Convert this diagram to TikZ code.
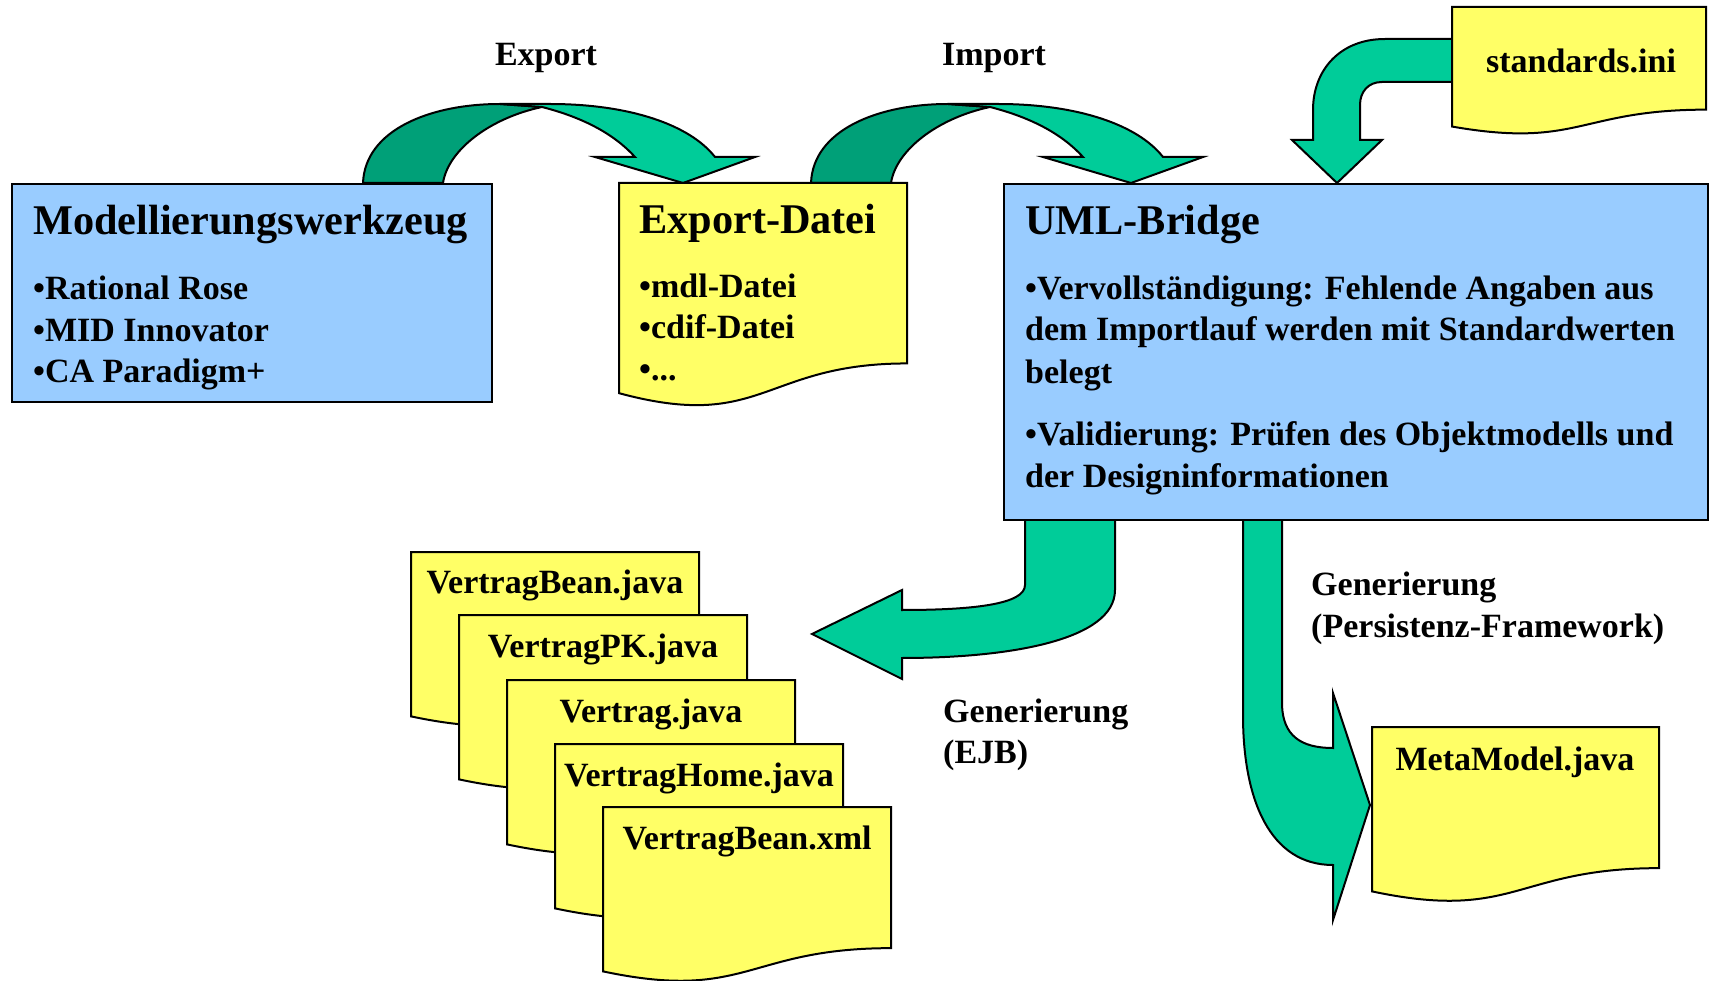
\documentclass[tikz,border=0pt]{standalone}
\usepackage{fontspec}
\setmainfont{Liberation Serif}
\definecolor{flowgreen}{HTML}{00CC99}
\definecolor{flowdark}{HTML}{00A078}
\definecolor{boxblue}{HTML}{99CCFF}
\definecolor{paperyellow}{HTML}{FFFF66}
\newcommand\figbody{\fontsize{34}{41}\selectfont\bfseries}
\newcommand\figtitle{\fontsize{42.3}{50}\selectfont\bfseries}
\tikzset{
  outl/.style={draw=black, line width=2pt, line join=miter},
  bluebox/.style={outl, fill=boxblue, rectangle, anchor=north west, inner sep=0pt},
  paper/.style={outl, fill=paperyellow},
  greenband/.style={outl, fill=flowgreen},
  darkband/.style={outl, fill=flowdark},
  bodytext/.style={anchor=base west, inner sep=0pt, font=\figbody},
  titletext/.style={anchor=base west, inner sep=0pt, font=\figtitle},
  centertext/.style={anchor=base, inner sep=0pt, font=\figbody},
  % document sheet with a wavy lower edge; #1 = width, #2 = height
  pics/docsheet/.style n args={2}{code={
    \path[paper] (0,0) -- (#1,0) -- (#1,{0.802*#2})
      .. controls ({0.5*#1},{0.802*#2}) and ({0.5*#1},{1.1075*#2}) .. (0,{0.934*#2}) -- cycle;
  }},
  % arching arrow: darker rising band, lighter falling band with head
  pics/arcarrow/.style={code={
    \path[darkband] (363,183) .. controls (365,130) and (430,104) .. (500,104)
      -- (542,107) .. controls (490,118) and (448,150) .. (443,183) -- cycle;
    \path[greenband] (500,104) -- (550,104) .. controls (630,104) and (690,125) .. (715,157)
      -- (755,157) -- (683,183) -- (595,157) -- (635,157)
      .. controls (615,135) and (585,118) .. (542,107) -- cycle;
  }}
}
\begin{document}
\begin{tikzpicture}[x=1pt,y=-1pt]
\useasboundingbox (0,0) rectangle (1709,981);

% ---- block arrows (drawn first, boxes sit on top of their bases)
\pic (exparrow) at (0,0) {arcarrow};
\pic (imparrow) at (448,0) {arcarrow};

\path[greenband] (1460,39) -- (1385,39) .. controls (1340,39) and (1313,70) .. (1313,110)
  -- (1313,140) -- (1292,140) -- (1337,183) -- (1382,140) -- (1360,140) -- (1360,105)
  .. controls (1360,92) and (1368,82) .. (1382,82) -- (1460,82) -- cycle;

\path[greenband] (1025,519) -- (1025,585) .. controls (1025,604) and (975,610) .. (902,610)
  -- (902,590) -- (812,634) -- (902,679) -- (902,658)
  .. controls (1010,658) and (1115,640) .. (1115,590) -- (1115,519);

\path[greenband] (1243,519) -- (1243,715) .. controls (1243,800) and (1270,865) .. (1333,865)
  -- (1333,920) -- (1370,805) -- (1333,693) -- (1333,748)
  .. controls (1300,748) and (1283,735) .. (1282,705) -- (1282,519);

% ---- modelling tool
\node[bluebox, minimum width=480pt, minimum height=218pt] (modell) at (11,183) {};
\node[titletext] (modell-t) at (33,235) {Modellierungswerkzeug};
\node[bodytext] (modell-1) at (33,300) {•Rational Rose};
\node[bodytext] (modell-2) at (33,342) {•MID Innovator};
\node[bodytext] (modell-3) at (33,383) {•CA Paradigm+};

% ---- export file
\pic (export) at (619,183) {docsheet={288}{225}};
\node[titletext] (export-t) at (639,234) {Export-Datei};
\node[bodytext] (export-1) at (639,298) {•mdl-Datei};
\node[bodytext] (export-2) at (639,339) {•cdif-Datei};
\node[bodytext] (export-3) at (639,381) {•...};

% ---- UML bridge
\node[bluebox, minimum width=704pt, minimum height=336pt] (bridge) at (1003,183) {};
\node[titletext] (bridge-t) at (1025,235) {UML-Bridge};
\node[bodytext] (bridge-1) at (1025,300) {•Vervollständigung: Fehlende Angaben aus};
\node[bodytext] (bridge-2) at (1025,341) {dem Importlauf werden mit Standardwerten};
\node[bodytext] (bridge-3) at (1025,384) {belegt};
\node[bodytext] (bridge-4) at (1025,446) {•Validierung: Prüfen des Objektmodells und};
\node[bodytext] (bridge-5) at (1025,487) {der Designinformationen};

% ---- settings file
\pic (ini) at (1452,7) {docsheet={254}{128}};
\node[centertext] (ini-t) at (1581,73) {standards.ini};

% ---- generated EJB sources
\pic (f1) at (411,552) {docsheet={288}{176}};
\node[centertext] (f1-t) at (555,593) {VertragBean.java};
\pic (f2) at (459,615) {docsheet={288}{176}};
\node[centertext] (f2-t) at (603,657) {VertragPK.java};
\pic (f3) at (507,680) {docsheet={288}{176}};
\node[centertext] (f3-t) at (651,722) {Vertrag.java};
\pic (f4) at (555,744) {docsheet={288}{176}};
\node[centertext] (f4-t) at (699,786) {VertragHome.java};
\pic (f5) at (603,807) {docsheet={288}{176}};
\node[centertext] (f5-t) at (747,849) {VertragBean.xml};

% ---- generated persistence class
\pic (meta) at (1372,727) {docsheet={287}{176}};
\node[centertext] (meta-t) at (1515,770) {MetaModel.java};

% ---- arrow captions
\node[centertext] (lbl-export) at (546,66) {Export};
\node[centertext] (lbl-import) at (994,66) {Import};
\node[bodytext] (lbl-ejb1) at (943,722) {Generierung};
\node[bodytext] (lbl-ejb2) at (943,763) {(EJB)};
\node[bodytext] (lbl-pf1) at (1311,595) {Generierung};
\node[bodytext] (lbl-pf2) at (1311,637) {(Persistenz-Framework)};
\end{tikzpicture}
\end{document}
